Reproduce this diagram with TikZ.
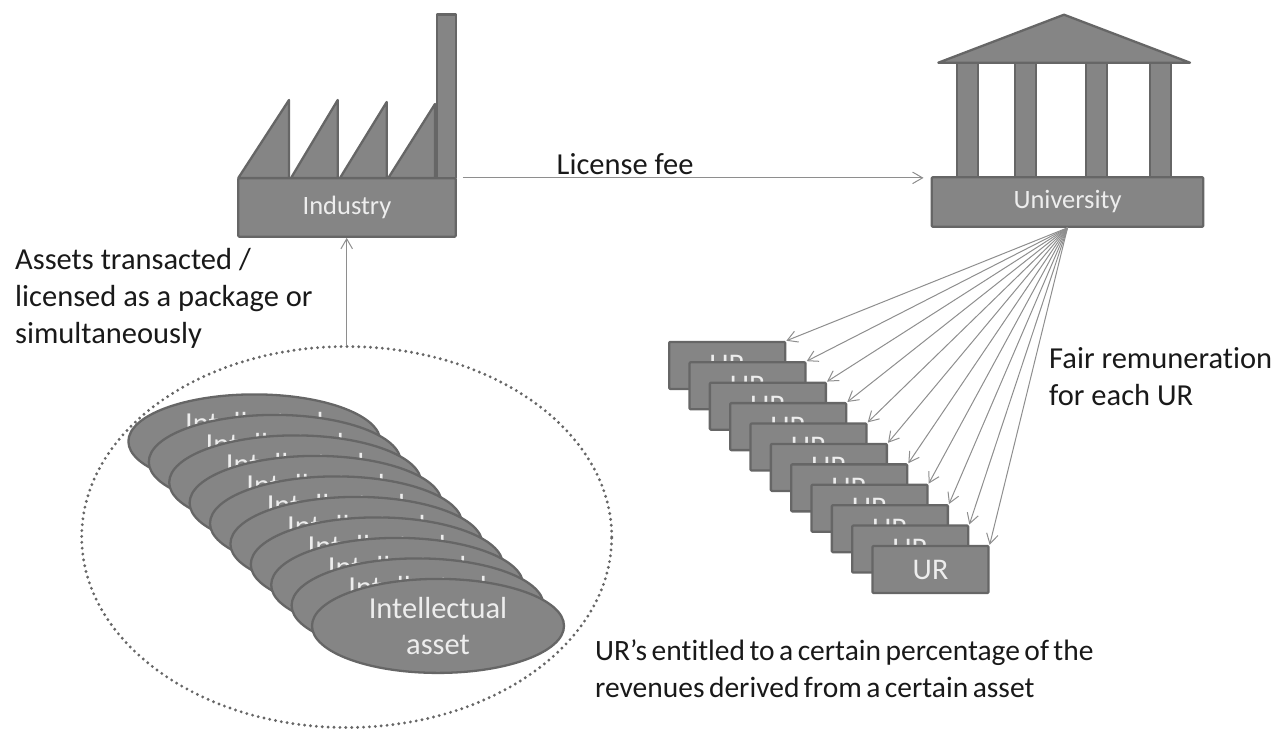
\documentclass[tikz,border=0pt]{standalone}
\usepackage{fontspec}
\setmainfont[Ligatures=NoCommon]{Carlito}
\newfontfamily\capfamily[WordSpace=0.67,Ligatures=NoCommon]{Carlito}
\usetikzlibrary{arrows.meta,shapes.geometric}
\definecolor{shapefill}{HTML}{858585}
\definecolor{shapeline}{HTML}{666666}
\definecolor{thinline}{HTML}{8E8E8E}
\definecolor{labelwhite}{HTML}{EDEDED}
\tikzset{
  part/.style={fill=shapefill,draw=shapeline,line width=2.3pt,line join=round},
  basebox/.style={part,rectangle,rounded corners=1pt,inner sep=0pt,text=labelwhite,font=\fontsize{26.5}{30}\selectfont},
  urbox/.style={part,rectangle,rounded corners=1pt,inner sep=0pt,minimum width=116pt,minimum height=47pt,text=labelwhite,font=\fontsize{30}{36}\selectfont},
  assetbox/.style={part,ellipse,inner sep=0pt,minimum width=252pt,minimum height=94pt,align=center,text=labelwhite,font=\fontsize{30.5}{36.5}\selectfont},
  thinarrow/.style={draw=thinline,line width=1pt,-{Straight Barb[length=10pt,width=17pt,angle'=60]}},
  caption/.style={align=left,inner sep=0pt,text=black!90,font=\fontsize{30.5}{37}\selectfont}
}
\begin{document}
\begin{tikzpicture}[x=1pt,y=-1pt]
        \useasboundingbox (0,0) rectangle (1287,728);
        % factory
        \foreach \a/\b/\c in {238.3/289/100,291/337.7/100,340/386.7/102,388.3/435/104}
        \draw[part] (\a,178) -- (\b,\c) -- (\b,178) -- cycle;
        \draw[part] (436.7,178) -- (436.7,14.5) -- (455.7,14.5) -- (455.7,178) -- cycle;
        \node[basebox,minimum width=217.4pt,minimum height=58.4pt] (industry) at (347,207.5) {Industry};
        % university
        \foreach \a/\b in {957.3/978.3,1014.7/1036,1085.7/1106.7,1150/1170.7}
        \draw[part] (\a,62.7) rectangle (\b,177.5);
        \draw[part] (938.3,62.7) -- (1064,14.7) -- (1190,62.7) -- cycle;
        \node[basebox,minimum width=271.6pt,minimum height=49.4pt] (university) at (1067.5,202) {University};
        % assets
        \node[draw=shapeline,ellipse,inner sep=0pt,minimum width=530pt,minimum height=381pt,line width=3.2pt,line cap=round,dash pattern=on 0pt off 5.9pt] (bundle) at (346.7,537) {};
        \foreach \i in {1,...,10}
        \node[assetbox] (asset\i) at ({254.4+(\i-1)*20.4},{441.4+(\i-1)*20.5}) {Intellectual\\asset};
        % rows of UR
        \foreach \i in {1,...,11}
        \node[urbox] (ur\i) at ({727.2+(\i-1)*20.33},{365.4+(\i-1)*20.41}) {UR};
        \foreach \i in {1,...,11}
        \draw[thinarrow] (university.south) -- (ur\i.north east);
        % arrows between
        \draw[thinarrow] ([xshift=6pt,yshift=-.7pt]industry.north east) -- ([xshift=-7pt,yshift=-1.7pt]university.north west);
        \draw[thinarrow] (bundle.north) -- ([xshift=-.3pt]industry.south);
        % captions
        \node[caption,anchor=base west] (fee) at (556.5,174) {License fee};
        \node[caption,anchor=base west] (transacted) at (15,343) {Assets transacted /\\licensed as a package or\\simultaneously};
        \node[caption,anchor=base west] (fair) at (1049,405) {Fair remuneration\\for each UR};
        \node[caption,anchor=base west,font=\capfamily\fontsize{29.5}{37}\selectfont] (entitled) at (595,697) {UR’s entitled to a certain percentage of the\\revenues derived from a certain asset};
\end{tikzpicture}
\end{document}
